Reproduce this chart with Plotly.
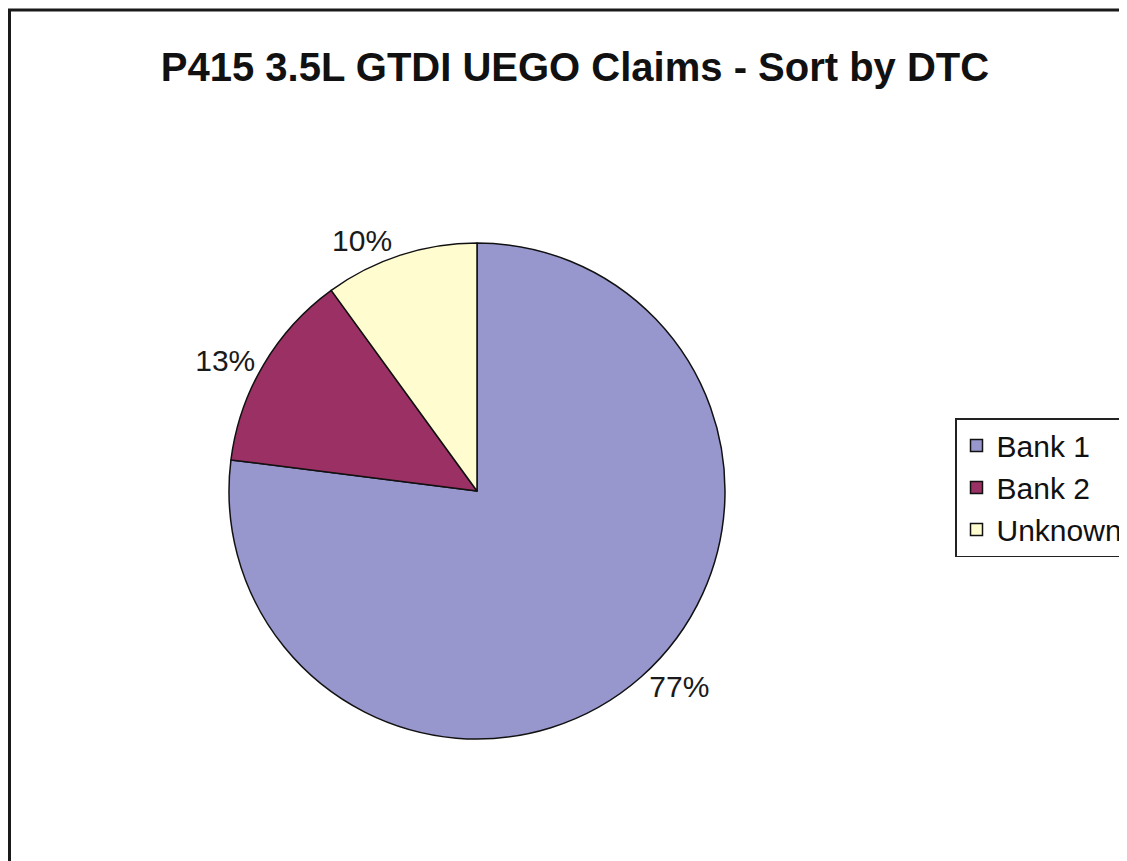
import plotly.graph_objects as go

labels = ["Bank 1", "Bank 2", "Unknown"]
values = [77, 13, 10]
colors = ["#9797CE", "#9A3063", "#FFFCD0"]

W, H = 1127, 861
OX, OY = 8, 8  # page body margin offset


def px_x(x):
    return (x - OX) / W


def px_y(y):
    return 1 - (y - OY) / H


fig = go.Figure(go.Pie(
    labels=labels,
    values=values,
    sort=False,
    direction="clockwise",
    rotation=0,
    marker=dict(colors=colors, line=dict(color="#111111", width=1.5)),
    textinfo="percent",
    texttemplate="%{percent:.0%}",
    textposition="outside",
    textfont=dict(family="Liberation Sans, Arial, sans-serif", size=30, color="#1a1a1a"),
    domain=dict(x=[px_x(229), px_x(725)], y=[px_y(739), px_y(243)]),
    hoverinfo="label+percent",
))

fig.update_layout(
    width=W, height=H,
    margin=dict(l=0, r=0, t=0, b=0),
    paper_bgcolor="white",
    plot_bgcolor="white",
    showlegend=True,
    title=dict(
        text="<b>P415 3.5L GTDI UEGO Claims - Sort by DTC</b>",
        x=px_x(575), xanchor="center",
        y=px_y(67), yanchor="middle",
        font=dict(family="Liberation Sans, Arial, sans-serif", size=40, color="#111111"),
    ),
    legend=dict(
        x=px_x(955), xanchor="left",
        y=px_y(418), yanchor="top",
        bordercolor="#222222", borderwidth=1.5,
        bgcolor="white",
        font=dict(family="Liberation Sans, Arial, sans-serif", size=30, color="#111111"),
    ),
    shapes=[dict(
        type="rect", xref="paper", yref="paper",
        x0=1.5 / W, x1=1.02, y0=-0.02, y1=px_y(10),
        line=dict(color="#1a1a1a", width=3),
    )],
)

fig.write_html("out.html")
